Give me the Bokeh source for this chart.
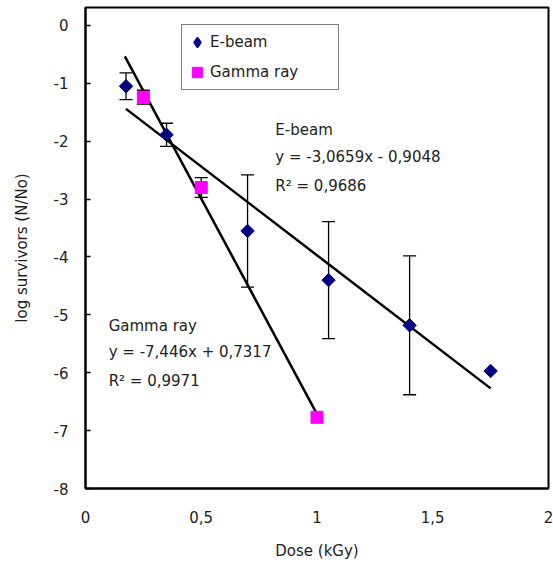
import math
from bokeh.plotting import figure
from bokeh.models import (ColumnDataSource, Whisker, TeeHead, Label, Legend,
                          LegendItem, FixedTicker, Range1d)
from bokeh.embed import file_html
from bokeh.resources import INLINE

# Survival data: dose (kGy) vs log survivors (N/No), with error half-widths
ebeam_dose = [0.175, 0.35, 0.70, 1.05, 1.40, 1.75]
ebeam_log = [-1.05, -1.89, -3.55, -4.40, -5.18, -5.97]
ebeam_err = [0.23, 0.20, 0.97, 1.01, 1.20, 0.0]

gamma_dose = [0.25, 0.50, 1.00]
gamma_log = [-1.24, -2.80, -6.77]
gamma_err = [0.12, 0.17, 0.0]

# Linear trendlines (slope, intercept) and R^2
ebeam_fit = (-3.0659, -0.9048)
ebeam_r2 = "0,9686"
gamma_fit = (-7.446, 0.7317)
gamma_r2 = "0,9971"

x_ticks = [0, 0.5, 1, 1.5, 2]
x_tick_labels = ["0", "0,5", "1", "1,5", "2"]
y_ticks = [0, -1, -2, -3, -4, -5, -6, -7, -8]

FONT = "DejaVu Sans"
FS = "15px"
NAVY = "#000080"
MAGENTA = "#ff00ff"

p = figure(width=553, height=568, output_backend="svg", toolbar_location=None,
           x_range=Range1d(0, 2), y_range=Range1d(-8, 0.31),
           min_border_left=85, min_border_right=5, min_border_top=7,
           min_border_bottom=80)
p.background_fill_color = "white"
p.border_fill_color = "white"
p.outline_line_color = "black"
p.outline_line_width = 2
p.xgrid.visible = False
p.ygrid.visible = False

# x axis
p.xaxis.ticker = FixedTicker(ticks=x_ticks)
p.xaxis.major_label_overrides = {t: l for t, l in zip(x_ticks, x_tick_labels)}
p.xaxis.major_tick_in = 0
p.xaxis.major_tick_out = 0
p.xaxis.minor_tick_in = 0
p.xaxis.minor_tick_out = 0
p.xaxis.axis_line_color = "black"
p.xaxis.axis_line_width = 2
p.xaxis.major_label_standoff = 22
p.xaxis.axis_label = "Dose (kGy)"
p.xaxis.axis_label_standoff = 16

# y axis
p.yaxis.ticker = FixedTicker(ticks=y_ticks)
p.yaxis.major_label_overrides = {t: str(t) for t in y_ticks}
p.yaxis.major_tick_in = 5
p.yaxis.major_tick_out = 0
p.yaxis.major_tick_line_width = 1.5
p.yaxis.minor_tick_in = 0
p.yaxis.minor_tick_out = 0
p.yaxis.axis_line_color = "black"
p.yaxis.axis_line_width = 2
p.yaxis.major_label_standoff = 17
p.yaxis.axis_label = "log survivors (N/No)"
p.yaxis.axis_label_standoff = 20

for ax in (p.xaxis, p.yaxis):
    ax.major_label_text_font = FONT
    ax.major_label_text_font_size = FS
    ax.major_label_text_color = "#222222"
    ax.axis_label_text_font = FONT
    ax.axis_label_text_font_size = FS
    ax.axis_label_text_font_style = "normal"
    ax.axis_label_text_color = "#222222"

# Trendlines over the dose range of each series
def fit_line(fit, x0, x1):
    m, b = fit
    return [x0, x1], [m * x0 + b, m * x1 + b]

ex, ey = fit_line(ebeam_fit, min(ebeam_dose), max(ebeam_dose))
gx, gy = fit_line(gamma_fit, 0.17, max(gamma_dose))
p.line(ex, ey, line_color="black", line_width=2.5)
p.line(gx, gy, line_color="black", line_width=2.5)

# Error bars
def err_source(xs, ys, es):
    keep = [i for i, e in enumerate(es) if e > 0]
    return ColumnDataSource(data=dict(
        x=[xs[i] for i in keep],
        upper=[ys[i] + es[i] for i in keep],
        lower=[ys[i] - es[i] for i in keep]))

for src in (err_source(ebeam_dose, ebeam_log, ebeam_err),
            err_source(gamma_dose, gamma_log, gamma_err)):
    w = Whisker(source=src, base="x", upper="upper", lower="lower",
                line_color="black", line_width=1.3,
                upper_head=TeeHead(size=13, line_color="black", line_width=1.3),
                lower_head=TeeHead(size=13, line_color="black", line_width=1.3))
    p.add_layout(w)

# E-beam legend key: a small diamond drawn underneath each plotted marker
# (legend keys are always drawn unrotated)
r_e_key = p.scatter(ebeam_dose, ebeam_log, marker="diamond", size=8,
                    fill_color=NAVY, line_color=NAVY, line_width=1.5)

# Markers: diamonds as 45-degree rotated squares, plain squares for gamma
p.scatter(ebeam_dose, ebeam_log, marker="square", size=9.5,
          angle=math.pi / 4, fill_color=NAVY, line_color=NAVY)
r_g = p.scatter(gamma_dose, gamma_log, marker="square", size=12,
                fill_color=MAGENTA, line_color=MAGENTA)

legend = Legend(items=[LegendItem(label="E-beam", renderers=[r_e_key]),
                       LegendItem(label="Gamma ray", renderers=[r_g])],
                location=(96, 398), orientation="vertical")
legend.border_line_color = "black"
legend.border_line_width = 1.5
legend.background_fill_alpha = 1
legend.label_text_font = FONT
legend.label_text_font_size = FS
legend.label_text_color = "#222222"
legend.glyph_width = 26
legend.glyph_height = 30
legend.label_standoff = 0
legend.spacing = 0
legend.padding = 2
legend.margin = 0
legend.label_height = 30
legend.label_width = 126
p.add_layout(legend)

# Trendline annotations
def note(x, y, text):
    p.add_layout(Label(x=x, y=y, text=text, text_font=FONT,
                       text_font_size=FS, text_color="#222222",
                       text_baseline="middle", text_align="left"))

note(0.82, -1.81, "E-beam")
note(0.82, -2.28, "y = -3,0659x - 0,9048")
note(0.82, -2.78, "R\u00b2 = " + ebeam_r2)
note(0.10, -5.20, "Gamma ray")
note(0.10, -5.65, "y = -7,446x + 0,7317")
note(0.10, -6.15, "R\u00b2 = " + gamma_r2)

open("out.html", "w").write(file_html(p, INLINE))
